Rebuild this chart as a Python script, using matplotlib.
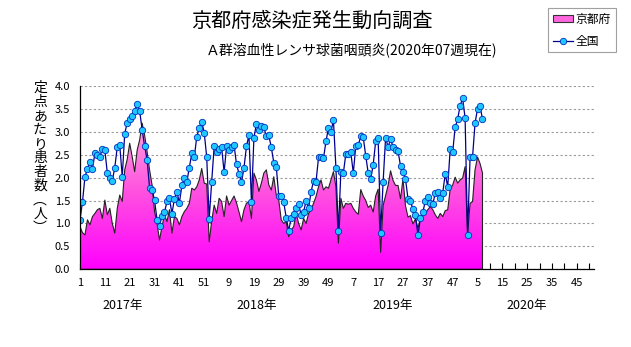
import numpy as np
import matplotlib
matplotlib.use("Agg")
import matplotlib.pyplot as plt
from matplotlib.colors import LinearSegmentedColormap
from matplotlib.patches import Patch
from matplotlib.lines import Line2D

plt.rcParams["font.family"] = ["Noto Sans CJK JP", "DejaVu Sans"]

# 定点あたり患者数 (2017年第1週からの通し週)
kyoto = [0.93, 0.80, 0.75, 1.08, 0.97, 1.15, 1.22, 1.30, 1.33, 1.11,
         1.51, 1.19, 1.33, 1.00, 0.79, 1.33, 1.62, 1.48, 2.17, 2.40,
         2.75, 2.46, 2.13, 2.60, 2.82, 3.19, 2.93, 2.57, 2.17, 1.84,
         1.26, 1.00, 0.64, 0.93, 1.19, 1.04, 1.30, 0.79, 1.15, 1.11,
         0.97, 1.15, 1.26, 1.33, 1.44, 1.77, 1.73, 1.80, 1.95, 2.20,
         1.88, 1.86, 0.60, 1.05, 1.40, 1.22, 1.55, 1.48, 1.15, 1.60,
         1.40, 1.50, 1.60, 1.45, 1.25, 1.04, 1.30, 1.44, 1.48, 1.11,
         2.10, 1.95, 1.70, 1.88, 2.10, 2.17, 1.84, 1.73, 2.02, 1.62,
         1.51, 1.08, 1.00, 1.04, 0.71, 0.86, 0.93, 1.22, 1.00, 0.86,
         1.11, 1.00, 1.22, 1.30, 1.44, 1.59, 1.80, 1.95, 1.73, 1.80,
         1.77, 1.95, 2.13, 1.80, 0.57, 1.55, 1.33, 1.44, 1.42, 1.44,
         1.33, 1.25, 1.20, 1.74, 1.60, 1.50, 1.35, 1.40, 1.25, 1.60,
         1.75, 0.37, 1.39, 1.61, 1.83, 2.15, 1.94, 1.83, 1.83, 1.54,
         1.97, 1.39, 1.14, 1.17, 0.99, 1.10, 0.90, 1.10, 1.18, 1.22,
         1.30, 1.37, 1.30, 1.19, 1.11, 1.22, 1.15, 1.28, 1.30, 1.75,
         1.84, 2.01, 1.88, 1.95, 1.99, 2.24, 0.75, 1.44, 1.48, 2.17,
         2.45, 2.31, 2.10]

zenkoku = [1.08, 1.47, 2.02, 2.19, 2.35, 2.19, 2.53, 2.49, 2.45, 2.63,
           2.60, 2.10, 2.00, 1.93, 2.22, 2.67, 2.71, 2.02, 2.96, 3.20,
           3.27, 3.35, 3.46, 3.61, 3.46, 3.05, 2.69, 2.39, 1.78, 1.74,
           1.51, 1.08, 0.95, 1.17, 1.24, 1.48, 1.56, 1.21, 1.54, 1.69,
           1.45, 1.83, 1.99, 1.91, 2.22, 2.53, 2.45, 2.89, 3.09, 3.22,
           2.98, 2.45, 1.10, 1.91, 2.68, 2.55, 2.63, 2.66, 2.12, 2.68,
           2.60, 2.66, 2.71, 2.29, 2.09, 1.90, 2.22, 2.68, 2.93, 1.47,
           2.87, 3.17, 3.04, 3.13, 3.10, 2.90, 2.92, 2.66, 2.33, 2.24,
           1.59, 1.59, 1.46, 1.13, 0.84, 1.13, 1.21, 1.34, 1.42, 1.19,
           1.26, 1.49, 1.33, 1.69, 1.93, 1.91, 2.44, 2.44, 2.42, 2.79,
           3.08, 2.99, 3.26, 2.22, 0.84, 2.13, 2.10, 2.52, 2.51, 2.55,
           2.10, 2.69, 2.71, 2.90, 2.88, 2.48, 2.10, 1.97, 2.28, 2.79,
           2.87, 0.79, 1.91, 2.87, 2.67, 2.84, 2.67, 2.60, 2.58, 2.26,
           2.13, 1.98, 1.54, 1.49, 1.31, 1.19, 0.75, 1.11, 1.25, 1.49,
           1.58, 1.45, 1.42, 1.67, 1.69, 1.56, 1.67, 2.08, 1.80, 2.62,
           2.56, 3.10, 3.28, 3.57, 3.74, 3.30, 0.75, 2.45, 2.45, 3.19,
           3.50, 3.56, 3.28]

n_weeks = 208
tick_labels = ["1", "11", "21", "31", "41", "51", "9", "19", "29", "39", "49",
               "7", "17", "27", "37", "47", "5", "15", "25", "35", "45"]
years = ["2017年", "2018年", "2019年", "2020年"]
year_pos = [17, 71, 126, 180]

weeks = np.arange(len(kyoto))

fig = plt.figure(figsize=(6.31, 3.47), dpi=100)
ax = fig.add_axes([80 / 631, 77.7 / 347, 514.3 / 631, 183.3 / 347])

# 京都府: グラデーション塗り
poly = ax.fill_between(weeks, kyoto, 0, facecolor="none", edgecolor="#222222",
                       lw=0.8, zorder=3)
cmap = LinearSegmentedColormap.from_list("pk", ["#ff00ff", "#ff50e0", "#ffaade"])
grad = ax.imshow(np.linspace(0, 1, 256).reshape(-1, 1), cmap=cmap,
                 extent=[0, weeks[-1], 0, 3.3], origin="lower",
                 aspect="auto", zorder=2)
grad.set_clip_path(poly.get_paths()[0], transform=ax.transData)

# 全国
ax.plot(weeks, zenkoku, color="#000090", lw=0.9, marker="o", ms=4.6,
        mfc="#1ec8ff", mec="#0030c0", mew=0.6, zorder=4)

ax.set_xlim(0, n_weeks - 1)
ax.set_ylim(0, 4)
ax.set_xticks(np.arange(0, n_weeks, 5), minor=True)
ax.set_xticks(np.arange(0, n_weeks, 10))
ax.set_xticklabels(tick_labels, fontsize=8)
ax.tick_params(axis="x", which="both", direction="in", length=4, width=0.8,
               pad=6, color="black")
ax.set_yticks(np.arange(0, 4.01, 0.5))
ax.set_yticklabels([f"{v:.1f}" for v in np.arange(0, 4.01, 0.5)], fontsize=8)
ax.tick_params(axis="y", length=0, pad=7)
ax.yaxis.grid(True, color="#9a9a9a", ls=(0, (2, 2)), lw=0.8)
ax.set_axisbelow(True)
for s in ["top", "right"]:
    ax.spines[s].set_visible(False)
for s in ["left", "bottom"]:
    ax.spines[s].set_color("black")
    ax.spines[s].set_linewidth(0.9)
    ax.spines[s].set_zorder(5)

for yr, xp in zip(years, year_pos):
    ax.text(xp, -0.195, yr, transform=ax.get_xaxis_transform(),
            ha="center", va="center", fontsize=9)

fig.text(40 / 631, 1 - 158 / 347, "\n".join("定点あたり患者数︵人︶"),
         ha="center", va="center", fontsize=10, linespacing=1.0)

fig.text(312 / 631, 1 - 21 / 347, "京都府感染症発生動向調査",
         ha="center", va="center", fontsize=14.5)
fig.text(352 / 631, 1 - 50 / 347, "Ａ群溶血性レンサ球菌咽頭炎(2020年07週現在)",
         ha="center", va="center", fontsize=10)

handles = [Patch(facecolor="#ff66dd", edgecolor="#333333", lw=0.8),
           Line2D([], [], color="#000090", lw=0.9, marker="o", ms=4.6,
                  mfc="#1ec8ff", mec="#0030c0", mew=0.6)]
leg = fig.legend(handles, ["京都府", "全国"], loc="upper left",
                 bbox_to_anchor=(548 / 631, 1 - 8 / 347), fontsize=8.5,
                 frameon=True, fancybox=False, edgecolor="#888888",
                 handlelength=1.7, handleheight=0.55, handletextpad=0.25,
                 borderpad=0.4, labelspacing=0.75, borderaxespad=0)
leg.get_frame().set_linewidth(0.8)

fig.savefig("out.png", dpi=100)
